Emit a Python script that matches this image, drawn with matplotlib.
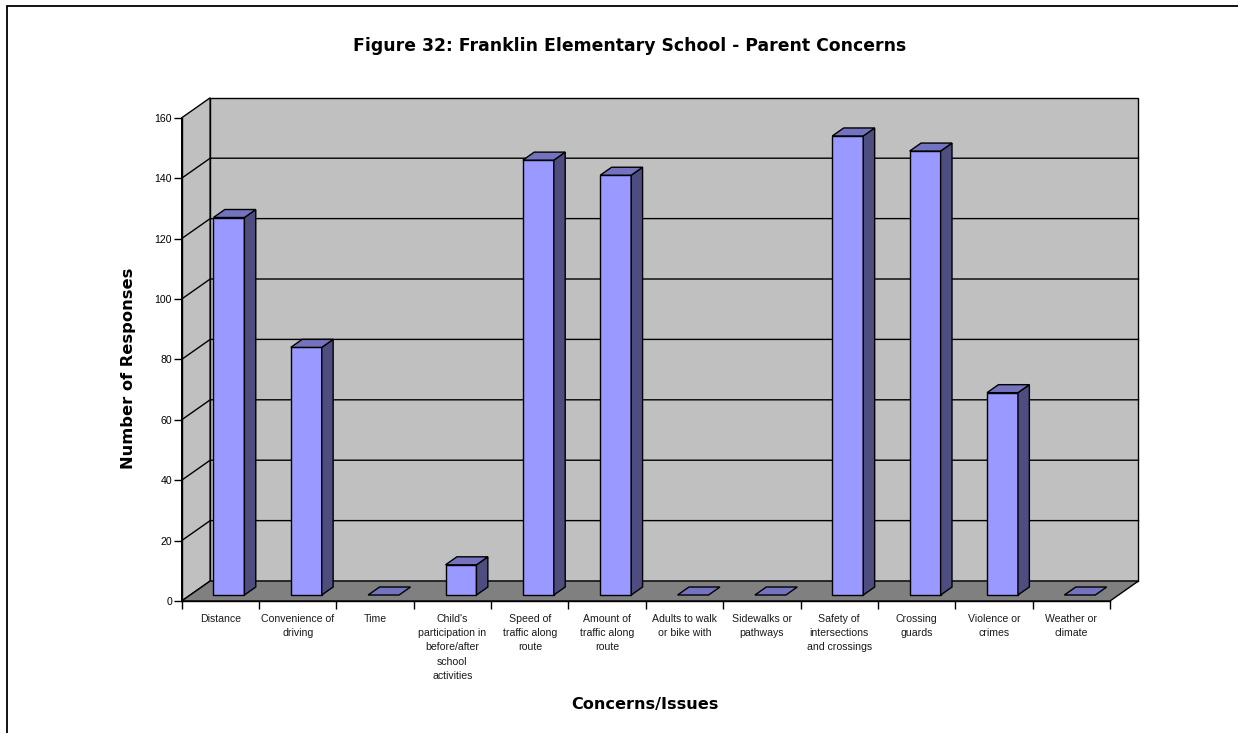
import numpy as np
import matplotlib
matplotlib.use("Agg")
import matplotlib.pyplot as plt
from matplotlib.patches import Polygon, Rectangle

# Survey data: number of parent responses per concern
categories = [
    "Distance",
    "Convenience of\ndriving",
    "Time",
    "Child's\nparticipation in\nbefore/after\nschool\nactivities",
    "Speed of\ntraffic along\nroute",
    "Amount of\ntraffic along\nroute",
    "Adults to walk\nor bike with",
    "Sidewalks or\npathways",
    "Safety of\nintersections\nand crossings",
    "Crossing\nguards",
    "Violence or\ncrimes",
    "Weather or\nclimate",
]
responses = [125, 82, 0, 10, 144, 139, 0, 0, 152, 147, 67, 0]
y_ticks = [0, 20, 40, 60, 80, 100, 120, 140, 160]

# oblique 3D look: full floor depth expressed in data units
DX, DY = 0.368, 6.62
D_FRONT, D_BACK = 0.3, 0.7
BAR_W = 0.4

WALL = "#C0C0C0"
FLOOR = "#808080"
BAR_FRONT = "#9999FF"
BAR_SIDE = "#4D4D80"
BAR_TOP = "#7373BF"


def pt(x, y, d):
    return (x + d * DX, y + d * DY)


fig = plt.figure(figsize=(12.38, 7.33), dpi=100)
ax = fig.add_axes([0.14677, 0.18008, 0.74984, 0.65921])
n = len(categories)
ymax = y_ticks[-1]
ax.set_xlim(0, n)
ax.set_ylim(0, ymax)
ax.patch.set_visible(False)


def face(pts, color, z):
    ax.add_patch(Polygon(pts, closed=True, facecolor=color, edgecolor="black",
                         lw=1.0, zorder=z, clip_on=False, joinstyle="miter"))


# walls and floor
face([pt(0, 0, 0), pt(0, 0, 1), pt(0, ymax, 1), pt(0, ymax, 0)], WALL, 1)
face([pt(0, 0, 1), pt(n, 0, 1), pt(n, ymax, 1), pt(0, ymax, 1)], WALL, 1)
for v in y_ticks[1:-1]:
    xs, ys = zip(pt(0, v, 0), pt(0, v, 1), pt(n, v, 1))
    ax.plot(xs, ys, color="black", lw=1.0, zorder=1.5, clip_on=False)
face([pt(0, 0, 0), pt(n, 0, 0), pt(n, 0, 1), pt(0, 0, 1)], FLOOR, 2)

# bars
for i, v in enumerate(responses):
    x0 = i + 0.5 - BAR_W / 2
    x1 = i + 0.5 + BAR_W / 2
    if v > 0:
        face([pt(x0, 0, D_FRONT), pt(x1, 0, D_FRONT),
              pt(x1, v, D_FRONT), pt(x0, v, D_FRONT)], BAR_FRONT, 3)
        face([pt(x1, 0, D_FRONT), pt(x1, 0, D_BACK),
              pt(x1, v, D_BACK), pt(x1, v, D_FRONT)], BAR_SIDE, 3)
    face([pt(x0, v, D_FRONT), pt(x1, v, D_FRONT),
          pt(x1, v, D_BACK), pt(x0, v, D_BACK)], BAR_TOP, 3)

# axes, ticks and labels
for s in ["top", "right"]:
    ax.spines[s].set_visible(False)
for s in ["left", "bottom"]:
    ax.spines[s].set_linewidth(1.0)
    ax.spines[s].set_zorder(4)

ax.set_yticks(y_ticks)
ax.set_xticks(np.arange(n) + 0.5)
ax.set_xticklabels(categories, fontfamily="Liberation Sans", fontsize=7.6,
                   linespacing=1.55, color="#1a1a1a")
ax.set_xticks(np.arange(n + 1), minor=True)
ax.tick_params(axis="y", length=5.5, width=1, pad=1.5, labelsize=7.6)
ax.tick_params(axis="x", which="major", length=0, pad=9)
ax.tick_params(axis="x", which="minor", length=5.5, width=1)
for lbl in ax.get_yticklabels():
    lbl.set_fontfamily("Liberation Sans")

fig.text(630 / 1238, 1 - 46 / 733,
         "Figure 32: Franklin Elementary School - Parent Concerns",
         ha="center", va="center", fontsize=12.4, fontweight="bold")
fig.text(128 / 1238, 1 - 368 / 733, "Number of Responses", rotation=90,
         ha="center", va="center", fontsize=11.7, fontweight="bold")
fig.text(645 / 1238, 1 - 705 / 733, "Concerns/Issues",
         ha="center", va="center", fontsize=11.6, fontweight="bold")

# chart frame
fig.add_artist(Rectangle((7.3 / 1238, -0.1), 1.2, 1.1 - 6 / 733,
                         transform=fig.transFigure, fill=False,
                         edgecolor="black", lw=1.3))

fig.savefig("out.png", dpi=100)
